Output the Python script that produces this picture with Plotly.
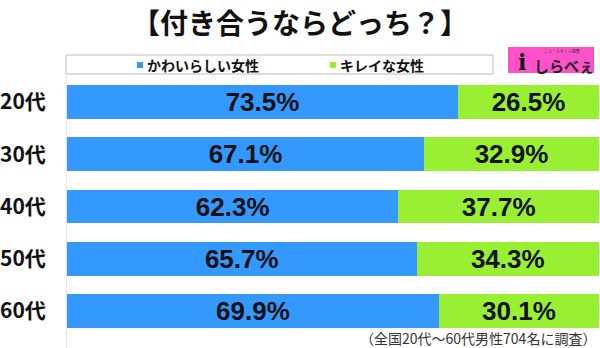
import plotly.graph_objects as go

categories = ["20代", "30代", "40代", "50代", "60代"]
cute = [73.5, 67.1, 62.3, 65.7, 69.9]
pretty = [26.5, 32.9, 37.7, 34.3, 30.1]
series_names = ["かわいらしい女性", "キレイな女性"]
title_text = "【付き合うならどっち？】"
note_text = "（全国20代～60代男性704名に調査）"

W, H = 600, 348
L, R, T, B = 67, 1, 76, 11
pw, ph = W - L - R, H - T - B

def px(x):
    return (x - L) / pw

def py(y):
    return (H - B - y) / ph

BLUE = "#3399FF"
GREEN = "#99F033"
FONT = "Noto Sans CJK JP"

fig = go.Figure()
for name, vals, col in [(series_names[0], cute, BLUE), (series_names[1], pretty, GREEN)]:
    fig.add_trace(go.Bar(
        y=categories, x=vals, name=name, orientation="h",
        marker=dict(color=col, line=dict(width=0)),
        texttemplate="%{x:.1f}%", textposition="inside",
        insidetextanchor="middle", constraintext="none",
        textfont=dict(family="Liberation Sans", size=26, color="#111111", weight="bold"),
        showlegend=False,
    ))

fig.update_layout(
    width=W, height=H, barmode="stack", bargap=0.35,
    margin=dict(l=L, r=R, t=T, b=B),
    plot_bgcolor="white", paper_bgcolor="white",
    font=dict(family=FONT, color="#111111"),
    xaxis=dict(range=[0, 100], visible=False, fixedrange=True),
    yaxis=dict(autorange="reversed", showgrid=False, ticks="",
               showline=True, linecolor="#e6e6e6", linewidth=1,
               ticklabelstandoff=16,
               tickfont=dict(family=FONT, size=21, color="#111111", weight="bold")),
)

shapes = [
    dict(type="rect", xref="paper", yref="paper", x0=px(66), x1=px(493), y0=py(74), y1=py(55),
         line=dict(color="#bbbbbb", width=1), fillcolor="white", layer="above"),
    dict(type="rect", xref="paper", yref="paper", x0=px(137), x1=px(143), y0=py(68), y1=py(62),
         line=dict(width=0), fillcolor=BLUE),
    dict(type="rect", xref="paper", yref="paper", x0=px(330), x1=px(336), y0=py(68), y1=py(62),
         line=dict(width=0), fillcolor=GREEN),
    dict(type="rect", xref="paper", yref="paper", x0=px(508), x1=px(594), y0=py(73), y1=py(47),
         line=dict(width=0), fillcolor="#FF52C8"),
    dict(type="line", xref="paper", yref="paper", x0=px(66.5), x1=px(66.5), y0=py(348), y1=py(337),
         line=dict(color="#e6e6e6", width=1)),
]
fig.update_layout(shapes=shapes)

ann = [
    dict(text=f"<b>{title_text}</b>", x=px(300), y=py(22), font=dict(size=28, family=FONT, color="#111111")),
    dict(text=f"<b>{series_names[0]}</b>", x=px(145), y=py(65), xanchor="left",
         font=dict(size=14, family=FONT, color="#111111")),
    dict(text=f"<b>{series_names[1]}</b>", x=px(338), y=py(65), xanchor="left",
         font=dict(size=14, family=FONT, color="#111111")),
    dict(text="<b>しらべぇ</b>", x=px(564), y=py(65), font=dict(size=15, family=FONT, color="#222222")),
    dict(text="<b>i</b>", x=px(522), y=py(62), font=dict(size=22, family="DejaVu Serif", color="#111111")),
    dict(text="ニュースサイト調査", x=px(562), y=py(50.5), font=dict(size=4, family=FONT, color="#333333")),
    dict(text=note_text, x=px(598), y=py(338), xanchor="right",
         font=dict(size=14, family=FONT, color="#333333")),
]
for a in ann:
    a.setdefault("xref", "paper")
    a.setdefault("yref", "paper")
    a.setdefault("showarrow", False)
    a.setdefault("yanchor", "middle")
    a.setdefault("xanchor", "center")
fig.update_layout(annotations=ann)

fig.write_html("out.html")
